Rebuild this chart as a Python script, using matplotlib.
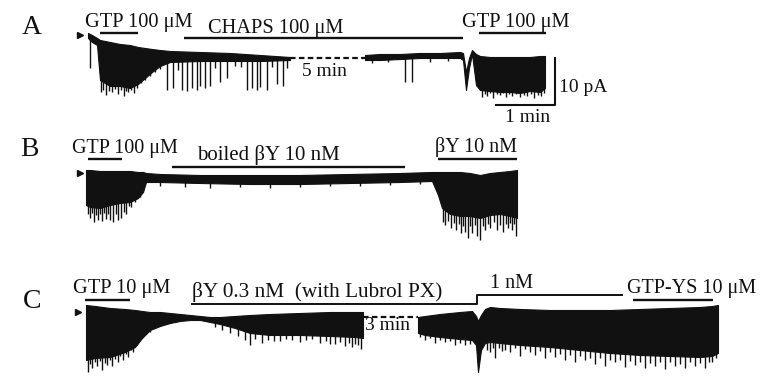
import matplotlib
matplotlib.use("Agg")
import matplotlib.pyplot as plt
import numpy as np

# ---- panel A trace (pixel coords of the scanned figure) ----
a1_x = [88, 92, 97, 100, 110, 120, 130, 138, 145, 152, 160, 170, 200, 230, 260, 290]
a1_top = [33, 35, 38, 40, 42, 44, 45, 47, 48, 49, 50, 51, 52, 53, 55, 57]
a1_bot = [38, 42, 45, 80, 86, 86, 88, 84, 78, 72, 66, 62, 61, 61, 61, 60]
a1_spk_x = [90, 101, 103, 106, 109, 112, 115, 118, 121, 124, 126, 128, 131, 134,
            137, 141, 145, 150, 155, 160, 167, 173, 178, 182, 187, 192, 197,
            200, 205, 210, 215, 220, 227, 235, 241, 247, 252, 257, 260, 267,
            272, 277, 283, 287]
a1_spk_y = [68, 92, 90, 95, 91, 92, 89, 94, 90, 96, 91, 92, 90, 93,
            88, 83, 80, 76, 72, 69, 90, 88, 70, 90, 91, 88, 90,
            86, 88, 86, 68, 82, 78, 66, 67, 90, 88, 90, 87, 90,
            67, 84, 86, 68]

a2_x = [365, 380, 400, 420, 440, 460, 463, 466, 469, 472, 476, 480, 490, 500,
        510, 520, 530, 540, 545]
a2_top = [55, 54, 54, 53, 53, 52, 53, 72, 58, 50, 54, 56, 57, 57, 57, 57, 57, 56, 56]
a2_bot = [60, 60, 59, 58, 58, 58, 60, 90, 68, 54, 85, 90, 91, 92, 92, 93, 91, 92, 88]
a2_spk_x = [372, 388, 405, 412, 430, 448, 482, 485, 487, 490, 493, 497, 500, 503,
            506, 509, 512, 516, 520, 524, 527, 531, 534, 538, 541, 544]
a2_spk_y = [63, 62, 82, 82, 62, 61, 97, 94, 96, 93, 98, 94, 95, 93,
            97, 94, 96, 94, 97, 95, 96, 94, 98, 95, 96, 93]

# ---- panel B trace ----
b_x = [86, 90, 100, 110, 120, 130, 138, 143, 146, 160, 200, 250, 300, 350, 400,
       432, 438, 442, 450, 460, 470, 480, 490, 500, 510, 517]
b_top = [170, 170, 171, 171, 171, 171, 172, 172, 173, 174, 175, 175, 175, 174, 173,
         172, 172, 172, 172, 172, 173, 175, 173, 172, 171, 170]
b_bot = [205, 207, 208, 205, 203, 202, 198, 192, 182, 182, 183, 184, 184, 183, 182,
         181, 195, 208, 214, 216, 216, 218, 215, 214, 216, 218]
b_spk_x = [88, 90, 92, 94, 96, 98, 100, 102, 104, 106, 108, 110, 113, 116, 118,
           121, 124, 126, 129, 131, 135, 140,
           160, 185, 210, 240, 270, 300, 330, 360, 390, 420,
           443, 445, 448, 451, 454, 456, 459, 461, 463, 465, 468, 470, 472, 475,
           477, 480, 483, 485, 488, 490, 494, 497, 500, 503, 506, 508, 510, 512,
           514, 516]
b_spk_y = [214, 218, 213, 222, 215, 220, 214, 221, 213, 219, 214, 220, 222, 214, 220,
           218, 212, 214, 206, 207, 202, 197,
           186, 187, 188, 187, 188, 187, 186, 186, 185, 184,
           222, 225, 221, 228, 223, 230, 224, 233, 226, 232, 238, 226, 233, 225,
           236, 240, 226, 230, 224, 228, 222, 230, 225, 232, 224, 228, 223, 230,
           224, 236]

# ---- panel C trace ----
c1_x = [86, 95, 110, 125, 135, 142, 150, 160, 170, 180, 190, 200, 210, 220, 235,
        250, 270, 300, 330, 355, 363]
c1_top = [305, 306, 308, 309, 310, 311, 312, 312, 313, 314, 315, 316, 317, 317, 316,
          315, 314, 313, 312, 312, 312]
c1_bot = [360, 358, 357, 352, 347, 338, 330, 326, 323, 321, 320, 320, 322, 324, 328,
          333, 335, 335, 336, 337, 338]
c1_spk_x = [88, 90, 92, 95, 97, 100, 102, 105, 107, 110, 112, 115, 118, 120, 123,
            126, 128, 131, 133, 135, 137, 140, 142, 146, 150,
            215, 222, 230, 238, 245, 250, 255, 262, 268, 274, 280, 286, 292, 300,
            306, 312, 320, 326, 330, 335, 340, 345, 349, 352, 355, 358, 361]
c1_spk_y = [372, 364, 368, 362, 366, 361, 370, 363, 365, 360, 366, 359, 362, 356, 360,
            354, 357, 350, 352, 346, 345, 340, 338, 334, 332,
            327, 330, 333, 336, 340, 345, 339, 343, 340, 341, 341, 339, 340, 342,
            340, 339, 343, 341, 344, 344, 342, 346, 343, 347, 344, 345, 349]

c2_x = [418, 425, 440, 460, 472, 476, 478, 481, 485, 490, 500, 520, 550, 580,
        610, 640, 670, 700, 712, 718]
c2_top = [317, 316, 314, 312, 311, 316, 321, 315, 309, 307, 308, 309, 310, 310,
          310, 309, 308, 307, 306, 305]
c2_bot = [333, 335, 337, 339, 340, 345, 372, 350, 343, 342, 343, 345, 347, 350,
          353, 355, 356, 357, 356, 353]
c2_spk_x = [420, 425, 430, 435, 440, 445, 450, 455, 460, 465, 470, 487, 490, 493,
            495, 499, 502, 505, 510, 515, 520, 525, 530, 535, 540, 545, 550, 555,
            560, 565, 570, 575, 580, 585, 590, 595, 600, 605, 610, 615, 620, 625,
            630, 635, 640, 645, 650, 655, 660, 665, 670, 675, 680, 685, 690, 695,
            700, 705, 709, 712, 716]
c2_spk_y = [337, 340, 338, 343, 340, 342, 341, 345, 343, 345, 344, 350, 352, 348,
            358, 348, 351, 350, 352, 348, 356, 349, 352, 355, 351, 358, 352, 357,
            354, 360, 355, 362, 356, 360, 358, 364, 358, 366, 360, 362, 360, 367,
            361, 365, 362, 368, 363, 366, 362, 369, 362, 366, 364, 368, 362, 366,
            363, 368, 362, 362, 358]

# drug application bars: (x0, x1, y)
bars = [(100, 138, 33), (184, 463, 38), (479, 546, 33),
        (88, 122, 159), (172, 405, 167), (438, 517, 159),
        (85, 130, 300), (633, 713, 300)]
# step line for beta-gamma 0.3 nM -> 1 nM
step_x = [192, 477, 477, 622]
step_y = [304, 304, 295, 295]

# panel letters: (x centre, y centre, text)
letters = [(32, 28, "A"), (29, 149, "B"), (32, 301, "C")]

# labels: (x, y, text, size)
labels = [(85, 22, "GTP 100 μM", 14.7), (208, 28, "CHAPS 100 μM", 14.7),
          (462, 22, "GTP 100 μM", 14.7),
          (302, 72, "5 min", 14), (559, 88, "10 pA", 14), (505, 117, "1 min", 14),
          (72, 148, "GTP 100 μM", 14.5), (197, 155, "boiled βY 10 nM", 15),
          (435, 147, "βY 10 nM", 14.5),
          (73, 289, "GTP 10 μM", 14.7), (192, 292, "βY 0.3 nM  (with Lubrol PX)", 15.3),
          (490, 284, "1 nM", 14.5), (627, 289, "GTP-YS 10 μM", 14.5),
          (365, 325, "3 min", 14)]

fig = plt.figure(figsize=(7.62, 3.77), dpi=100)
ax = fig.add_axes([0, 0, 1, 1])
ax.set_xlim(0, 762)
ax.set_ylim(377, 0)
ax.axis("off")

ink = "#111111"

for xs, tops, bots in [(a1_x, a1_top, a1_bot), (a2_x, a2_top, a2_bot),
                       (b_x, b_top, b_bot), (c1_x, c1_top, c1_bot),
                       (c2_x, c2_top, c2_bot)]:
    ax.fill_between(xs, tops, bots, color=ink, lw=0.8, edgecolor=ink)


def spikes(sx, sy, xs, bots):
    # spike hangs from the lower envelope of the trace
    base = np.interp(sx, xs, bots) - 1
    ax.vlines(sx, base, sy, color=ink, lw=1.0)


spikes(a1_spk_x, a1_spk_y, a1_x, a1_bot)
spikes(a2_spk_x, a2_spk_y, a2_x, a2_bot)
spikes(b_spk_x, b_spk_y, b_x, b_bot)
spikes(c1_spk_x, c1_spk_y, c1_x, c1_bot)
spikes(c2_spk_x, c2_spk_y, c2_x, c2_bot)

# gaps in the recording
ax.plot([290, 365], [58, 58], ls=(0, (2.5, 1.5)), color=ink, lw=1.6)
ax.plot([363, 418], [317, 317], ls=(0, (2.5, 1.5)), color=ink, lw=1.6)

# start markers
ax.plot([80, 80, 78], [35, 173, 312], ls="none", marker=">", ms=4, color=ink)

for x0, x1, y in bars:
    ax.plot([x0, x1], [y, y], color=ink, lw=1.7, solid_capstyle="butt")
ax.plot(step_x, step_y, color=ink, lw=1.4)

# scale bar
ax.plot([496, 555, 555], [105, 105, 58], color=ink, lw=1.5)

for x, y, t in letters:
    ax.text(x, y, t, fontsize=20, family="Liberation Serif", ha="center",
            va="center", color=ink)

for x, y, t, s in labels:
    ax.text(x, y, t, fontsize=s, family="Liberation Serif", ha="left",
            va="center", color=ink)

fig.savefig("out.png", dpi=100)
